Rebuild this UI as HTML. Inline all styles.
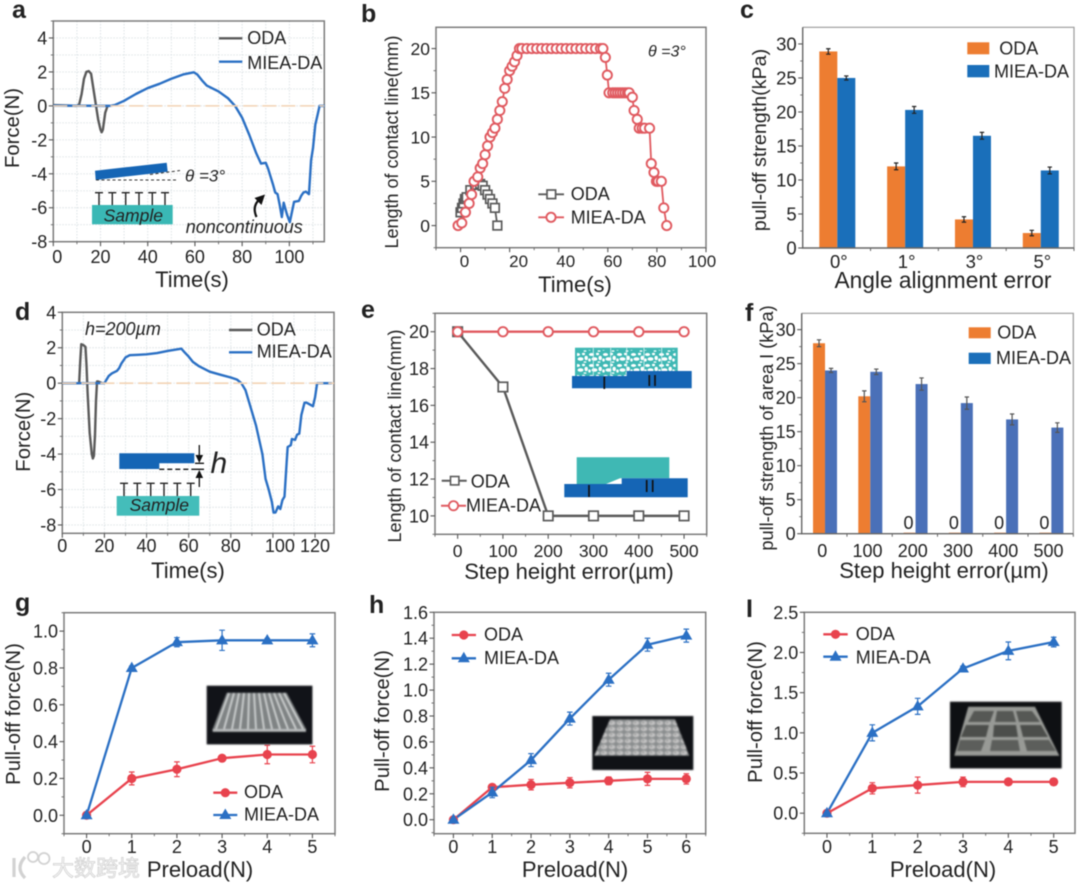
<!DOCTYPE html>
<html lang="en">
<head>
<meta charset="utf-8">
<title>Adhesion force and contact line charts</title>
<style>
html,body{margin:0;padding:0;background:#fff;}
#figure{display:block;width:1080px;height:886px;filter:blur(0.55px);font-family:"Liberation Sans","Noto Sans CJK SC",sans-serif;}
#figure text{fill:#222;font-family:"Liberation Sans","Noto Sans CJK SC",sans-serif;}
.soft{filter:blur(0.7px);}
</style>
</head>
<body>
<svg id="figure" xmlns="http://www.w3.org/2000/svg" width="1080" height="886" viewBox="0 0 1080 886">
<defs>
<pattern id="pores" width="14" height="11" patternUnits="userSpaceOnUse">
<ellipse cx="3.5" cy="2.5" rx="2.6" ry="1.5" fill="#fff"/><ellipse cx="9.5" cy="2" rx="1.6" ry="1.2" fill="#fff"/><ellipse cx="12.2" cy="6" rx="1.7" ry="2.2" fill="#fff"/><ellipse cx="6.5" cy="7" rx="3" ry="1.8" fill="#fff"/><ellipse cx="1.5" cy="8" rx="1.3" ry="1.6" fill="#fff"/><ellipse cx="11" cy="10" rx="1.5" ry="0.8" fill="#fff"/>
</pattern>
<pattern id="domes" width="8" height="6" patternUnits="userSpaceOnUse">
<ellipse cx="4" cy="3" rx="3.4" ry="2.2" fill="#c4c4c4"/><ellipse cx="3.2" cy="2.4" rx="1.3" ry="0.8" fill="#9a9a9a"/>
</pattern>
</defs>
<rect x="0" y="0" width="1080" height="886" fill="#fff"/>

<g id="plot-a"></g>
<g id="plot-b"></g>
<g id="plot-c"></g>
<g id="plot-d"></g>
<g id="plot-e"></g>
<g id="plot-f"></g>
<g id="plot-g"></g>
<g id="plot-h"></g>
<g id="plot-i"></g>

<!-- panel letters -->
<g font-weight="700" font-size="25">
<text x="12" y="18" style="font-weight:700">a</text>
<text x="361" y="22" style="font-weight:700">b</text>
<text x="740" y="18" style="font-weight:700">c</text>
<text x="15" y="320" style="font-weight:700">d</text>
<text x="361" y="318" style="font-weight:700">e</text>
<text x="745" y="321" style="font-weight:700">f</text>
<text x="15" y="611" style="font-weight:700">g</text>
<text x="369" y="613" style="font-weight:700">h</text>
<text x="746" y="617" style="font-weight:700">I</text>
</g>

<!-- axis titles -->
<g font-size="22" text-anchor="middle">
<text x="192" y="287">Time(s)</text>
<text x="575" y="292">Time(s)</text>
<text x="943" y="288" font-size="22.7">Angle alignment error</text>
<text x="188" y="578">Time(s)</text>
<text x="569" y="579">Step height error(µm)</text>
<text x="944" y="578">Step height error(µm)</text>
<text x="200" y="877">Preload(N)</text>
<text x="575" y="877">Preload(N)</text>
<text x="943" y="877">Preload(N)</text>
<text transform="translate(19,128) rotate(-90)" font-size="20.3">Force(N)</text>
<text transform="translate(398,142) rotate(-90)" font-size="18">Length of contact line(mm)</text>
<text transform="translate(766,140) rotate(-90)" font-size="19.7">pull-off strength(kPa)</text>
<text transform="translate(30,431.7) rotate(-90)" font-size="20.3">Force(N)</text>
<text transform="translate(401,436) rotate(-90)" font-size="18">Length of contact line(mm)</text>
<text transform="translate(773,428) rotate(-90)" font-size="18.2">pull-off strength of area I (kPa)</text>
<text transform="translate(20,714) rotate(-90)" font-size="20.3">Pull-off force(N)</text>
<text transform="translate(389,721) rotate(-90)" font-size="20.3">Pull-off force(N)</text>
<text transform="translate(762,712) rotate(-90)" font-size="20.3">Pull-off force(N)</text>
</g>

<!-- legends -->
<g font-size="18">
<g>
<line x1="219" y1="38.3" x2="242.3" y2="38.3" stroke="#5a5a5a" stroke-width="2.4"/><text x="247.3" y="44">ODA</text>
<line x1="219" y1="61.7" x2="242.3" y2="61.7" stroke="#2b70c4" stroke-width="2.4"/><text x="247.3" y="69">MIEA-DA</text>
</g>
<g>
<line x1="538.3" y1="194.3" x2="564" y2="194.3" stroke="#5a5a5a" stroke-width="1.8"/><rect x="547" y="190" width="8.6" height="8.6" fill="#fff" stroke="#5a5a5a" stroke-width="1.7"/><text x="570.7" y="200">ODA</text>
<line x1="538.3" y1="217.3" x2="564" y2="217.3" stroke="#e05a60" stroke-width="1.8"/><circle cx="551" cy="217.3" r="4.6" fill="#fff" stroke="#e05a60" stroke-width="1.9"/><text x="570.7" y="223.3">MIEA-DA</text>
<text x="648" y="56.7" font-size="16" style="font-style:italic">θ =3°</text>
</g>
<g>
<rect x="967.3" y="42.3" width="22" height="12" fill="#ed7d31"/><text x="999.3" y="54.3">ODA</text>
<rect x="967.3" y="65" width="22" height="12.3" fill="#1a6fba"/><text x="994" y="77.7">MIEA-DA</text>
</g>
<g>
<line x1="229" y1="330" x2="252.3" y2="330" stroke="#5a5a5a" stroke-width="2.4"/><text x="256.7" y="335.7">ODA</text>
<line x1="229" y1="352.3" x2="252.3" y2="352.3" stroke="#2b70c4" stroke-width="2.4"/><text x="256.7" y="357.7">MIEA-DA</text>
</g>
<g>
<line x1="441.7" y1="480.7" x2="466.7" y2="480.7" stroke="#5a5a5a" stroke-width="2"/><rect x="450.5" y="476.5" width="8.4" height="8.4" fill="#fff" stroke="#5a5a5a" stroke-width="1.6"/><text x="470.7" y="487.3">ODA</text>
<line x1="441" y1="505.7" x2="466" y2="505.7" stroke="#e05a60" stroke-width="2"/><circle cx="453.5" cy="505.7" r="4.6" fill="#fff" stroke="#e05a60" stroke-width="1.8"/><text x="466" y="511.7">MIEA-DA</text>
</g>
<g>
<rect x="968.7" y="327.3" width="22" height="11" fill="#ed7d31"/><text x="997.3" y="338.3">ODA</text>
<rect x="968.7" y="352.7" width="22" height="11.3" fill="#1a6fba"/><text x="996" y="364">MIEA-DA</text>
</g>
<g>
<line x1="213.3" y1="792.7" x2="237.3" y2="792.7" stroke="#e8434e" stroke-width="2.3"/><circle cx="225.3" cy="792.7" r="4.6" fill="#e8434e"/><text x="244" y="798">ODA</text>
<line x1="213.3" y1="815" x2="237.3" y2="815" stroke="#2b70c4" stroke-width="2.3"/><polygon points="225.3,808.5 231.3,819 219.3,819" fill="#2b70c4"/><text x="244" y="820.7">MIEA-DA</text>
</g>
<g>
<line x1="451.7" y1="635" x2="476" y2="635" stroke="#e8434e" stroke-width="2.3"/><circle cx="463.8" cy="635" r="4.6" fill="#e8434e"/><text x="484" y="640.7">ODA</text>
<line x1="451.7" y1="658.3" x2="476" y2="658.3" stroke="#2b70c4" stroke-width="2.3"/><polygon points="463.8,651.8 469.8,662.3 457.8,662.3" fill="#2b70c4"/><text x="484" y="664">MIEA-DA</text>
</g>
<g>
<line x1="823.3" y1="634.3" x2="847.7" y2="634.3" stroke="#e8434e" stroke-width="2.3"/><circle cx="835.5" cy="634.3" r="4.6" fill="#e8434e"/><text x="855.7" y="640">ODA</text>
<line x1="823.3" y1="656.7" x2="847.7" y2="656.7" stroke="#2b70c4" stroke-width="2.3"/><polygon points="835.5,650.2 841.5,660.7 829.5,660.7" fill="#2b70c4"/><text x="855.7" y="663.3">MIEA-DA</text>
</g>
</g>

<!-- panel a schematic -->
<g>
<polygon points="95,170.7 166.7,162.7 167.7,171.7 95.7,180" fill="#1565b5"/>
<line x1="96" y1="180" x2="176" y2="180" stroke="#333" stroke-width="1" stroke-dasharray="3,2.5"/>
<line x1="150" y1="174.5" x2="180" y2="170.5" stroke="#333" stroke-width="1" stroke-dasharray="3,2.5"/>
<path d="M99,192.7V205M95,192.7H103M112.3,192.7V205M108.3,192.7H116.3M125.7,192.7V205M121.7,192.7H129.7M139,192.7V205M135,192.7H143M152.3,192.7V205M148.3,192.7H156.3M165,192.7V205M161,192.7H169" stroke="#222" stroke-width="1.4" fill="none"/>
<rect x="92" y="205" width="80.7" height="19.3" fill="#3ab8b5"/>
<text x="133.3" y="221.5" font-size="17.5" text-anchor="middle" style="font-style:italic">Sample</text>
<text x="185" y="181.7" font-size="17" style="font-style:italic">θ =3°</text>
<text x="185.7" y="233" font-size="18" style="font-style:italic">noncontinuous</text>
<path d="M256.5,217 C253,209 255,203 260,199" fill="none" stroke="#111" stroke-width="2.2"/>
<polygon points="265,194.5 254.5,198 261.5,205" fill="#111"/>
</g>

<!-- panel d schematic -->
<g>
<path d="M119.3,453.3H194.3V463.3H159.3V469H119.3Z" fill="#1565b5"/>
<line x1="159.3" y1="469.3" x2="195" y2="469.3" stroke="#111" stroke-width="1.4" stroke-dasharray="5,3"/>
<path d="M195,463.3H204M195,469.3H204M199.3,445V457M199.3,487V476" stroke="#111" stroke-width="1.3" fill="none"/>
<polygon points="199.3,463 195.5,455 203.1,455" fill="#111"/>
<polygon points="199.3,470 195.5,478 203.1,478" fill="#111"/>
<text x="210.5" y="473" font-size="30" style="font-style:italic">h</text>
<text x="85" y="335" font-size="18" style="font-style:italic">h=200µm</text>
<path d="M124,483.3V496M120,483.3H128M137.3,483.3V496M133.3,483.3H141.3M150.7,483.3V496M146.7,483.3H154.7M164,483.3V496M160,483.3H168M177.3,483.3V496M173.3,483.3H181.3M190.7,483.3V496M186.7,483.3H194.7" stroke="#222" stroke-width="1.4" fill="none"/>
<rect x="116.7" y="496" width="82.6" height="19.7" fill="#44bdba"/>
<text x="159.3" y="511" font-size="17.5" text-anchor="middle" style="font-style:italic">Sample</text>
</g>

<!-- panel e schematics -->
<g>
<rect x="575" y="347.7" width="102.7" height="28.3" fill="#3fb8b4"/>
<rect x="577" y="350" width="98.7" height="26" fill="url(#pores)"/>
<path d="M593.3,348V376M610.7,348V376M626.7,348V376M644,348V376M661.7,348V376" stroke="#dff5f4" stroke-width="0.8"/>
<path d="M572,376H626.7V371H691.7V388.3H572Z" fill="#1565b5"/>
<path d="M604.3,376.7V389M649.3,375V386M655,375V386" stroke="#111" stroke-width="1.7"/>
</g>
<g>
<path d="M576.7,457.3H669.3V478.3H620L606,484H576.7Z" fill="#3fb8b4"/>
<path d="M564.3,484H621.7V478.3H687.7V497.3H564.3Z" fill="#1565b5"/>
<path d="M589,485V497M646.7,480V492M652.7,480V492" stroke="#111" stroke-width="1.7"/>
</g>

<!-- photo insets -->
<g class="soft">
<rect x="206.7" y="685.7" width="105.7" height="58.7" fill="#111318"/>
<polygon points="226.7,692.7 286.7,692.7 306,729 306,731 212.7,731 212.7,729" fill="#7f8384"/>
<path d="M229,693L216,729M234,693L224,729M239,693L232,729M244,693L240,729M249,693L248,729M254,693L256,729M259,693L264,729M264,693L272,729M269,693L280,729M274,693L288,729M279,693L296,729M284,693L303,729" stroke="#d5d8d8" stroke-width="1.7"/>
<rect x="212.7" y="729" width="93.3" height="2.8" fill="#b9bcbd"/>
</g>
<g class="soft">
<rect x="592.3" y="716" width="101" height="54" fill="#101216"/>
<polygon points="610,719.3 675,719.3 689.3,755.7 594.3,755.7" fill="#8a8d8e"/>
<polygon points="610,719.3 675,719.3 689.3,755.7 594.3,755.7" fill="url(#domes)"/>
</g>
<g class="soft">
<rect x="950" y="701.7" width="111.7" height="66.7" fill="#0e1013"/>
<polygon points="968.3,706.7 1035,706.7 1059.3,755.7 954.3,755.7" fill="#989a96"/>
<polygon points="974,711 994,711 990,722 968,722" fill="#565855"/><polygon points="997,711 1013,711 1016,722 995,722" fill="#565855"/><polygon points="1016,711 1032,711 1040,722 1019,722" fill="#565855"/>
<polygon points="966,725 989,725 986,737 961,737" fill="#4c4e4b"/><polygon points="994,725 1016,725 1018,737 993,737" fill="#4c4e4b"/><polygon points="1020,725 1041,725 1048,737 1023,737" fill="#4c4e4b"/>
<polygon points="960,740 985,740 981,751 957,751" fill="#5c5e5b"/><polygon points="992,740 1018,740 1020,751 990,751" fill="#5c5e5b"/><polygon points="1024,740 1049,740 1056,751 1027,751" fill="#5c5e5b"/>
</g>

<!-- watermark -->
<g>
<path d="M14,858V877M25,857Q15,868 25,878" fill="none" stroke="#d2d2d2" stroke-width="3.2"/>
<circle cx="33" cy="857" r="5" fill="none" stroke="#d2d2d2" stroke-width="1.8"/><circle cx="44" cy="858.5" r="5.5" fill="none" stroke="#d2d2d2" stroke-width="1.8"/>
<text x="52" y="876" font-size="22" style="fill:#f8f8f8;stroke:#cfcfcf;stroke-width:0.7px">大数跨境</text>
</g>
</svg>

<script>
// ---- chart values ----
const aOdaTime=[0,10,11,12,13,14,15,16,17,18,19,20,20.5,21,22,23];
const aOdaForce=[0.05,0,0.1,0.7,1.6,2.0,2.05,1.9,1.0,0.1,-0.8,-1.4,-1.55,-1.4,-0.4,0];
const aMieaTime=[0,24,26,30,35,40,45,50,55,59.5,61,63,65,70,74,77,80,83,86,88,90,91,93,94,95,96,96.8,97.6,99,100.2,102,104,105,106,107,108.3,109.2,110,111,112,112.8,115];
const aMieaForce=[0.02,0,0.05,0.3,0.7,1.05,1.3,1.6,1.85,1.98,1.85,1.5,1.2,0.85,0.45,0,-0.7,-1.7,-2.8,-3.4,-3.35,-3.7,-4.6,-5.1,-5.2,-5.9,-6.55,-5.7,-6.4,-6.85,-5.65,-5.6,-5.3,-5.1,-5.05,-5.2,-3.2,-2.5,-1.1,-0.5,0,0];
const aXLabels=['0','20','40','60','80','100'];
const aYLabels=['-8','-6','-4','-2','0','2','4'];

const bOdaTime=[0,0.6,1.2,1.8,2.5,4,6,7,8,9,10,11,12,13,14,15];
const bOdaLength=[1.5,2,2.5,3,3.2,4,4.6,5,4.7,4.5,4,3.5,3,2.5,2,0];
const bMieaTime=[-1,0.5,2,3.5,4.5,5.5,7,8,9,10,11,12,13,14,15,16,17,18,19,20,21,22,23,24,25,27,29,31,33,35,37,39,41,43,45,47,49,51,53,55,57,58,59,59.8,60.5,62,63,64,65,66,67,68,68.7,70,70.7,72,72.8,74,75,77,77.7,78.8,79.8,80.5,81.8,82.8,84];
const bMieaLength=[0,0.3,1.5,2.5,3.5,5,5.5,6.5,7,8,9,10,10.5,11,12,13,14,15.5,16.5,17.5,18,18.5,19.2,20,20,20,20,20,20,20,20,20,20,20,20,20,20,20,20,20,20,20,19,17,15,15,15,15,15,15,15,15,15,14.5,13,12,11,11,11,11,7,6,5,5,5,2,0];
const bXLabels=['0','20','40','60','80','100'];
const bYLabels=['0','5','10','15','20'];

const cCategories=['0°','1°','3°','5°'];
const cOda=[28.9,12,4.2,2.2];
const cOdaErr=[0.4,0.5,0.4,0.4];
const cMiea=[25,20.3,16.5,11.4];
const cMieaErr=[0.3,0.5,0.5,0.5];
const cYLabels=['0','5','10','15','20','25','30'];

const dOdaTime=[0,8,8.5,9,10,11,11.5,12,13,14,14.5,15,15.5,16,16.5,17,19];
const dOdaForce=[0,0,1.2,2.2,2.15,2.05,1,-0.5,-2.8,-4,-4.25,-4.1,-3,-1,0.1,0.1,0];
const dMieaTime=[0,20,21,22,23.5,26,27,28,30,32,36,40,45,50,56.5,58,60,62,65,70,75,80,83,85,87,89,92,95,96.5,98,99.5,100.3,101.2,102.5,103.5,104.5,105.5,106.5,107,108.5,109,110.5,111.5,112.5,113.5,115,116,119,120,121,128];
const dMieaForce=[0,0,0.2,0.4,0.55,0.7,0.85,1.1,1.45,1.58,1.6,1.63,1.7,1.82,1.95,1.75,1.5,1.2,0.95,0.65,0.48,0.32,0.2,0,-0.4,-1.2,-2.4,-4,-5.4,-6,-6.7,-7.3,-7.3,-6.95,-7.1,-6.6,-6.4,-4.5,-3.6,-3.5,-3.15,-3.2,-2.9,-2.85,-1.8,-1.1,-1.1,-1.3,-0.8,0,0];
const dXLabels=['0','20','40','60','80','100','120'];
const dYLabels=['-8','-6','-4','-2','0','2','4'];

const eErrors=[0,100,200,300,400,500];
const eOda=[20,17,10,10,10,10];
const eMiea=[20,20,20,20,20,20];
const eXLabels=['0','100','200','300','400','500'];
const eYLabels=['10','12','14','16','18','20'];

const fCategories=['0','100','200','300','400','500'];
const fOda=[28,20.2,0.15,0.15,0.15,0.15];
const fOdaErr=[0.5,0.8,0,0,0,0];
const fMiea=[24,23.8,22,19.2,16.8,15.6];
const fMieaErr=[0.3,0.4,0.9,0.9,0.8,0.7];
const fOdaPrinted=['','','0','0','0','0'];
const fYLabels=['0','5','10','15','20','25','30'];

const gPreload=[0,1,2,3,4,5];
const gOda=[0,0.2,0.25,0.31,0.33,0.33];
const gOdaErr=[0,0.035,0.04,0.015,0.05,0.045];
const gMiea=[0,0.8,0.94,0.95,0.95,0.95];
const gMieaErr=[0,0.01,0.025,0.055,0.01,0.035];
const gXLabels=['0','1','2','3','4','5'];
const gYLabels=['0.0','0.2','0.4','0.6','0.8','1.0'];

const hPreload=[0,1,2,3,4,5,6];
const hOda=[0,0.25,0.27,0.285,0.3,0.315,0.315];
const hOdaErr=[0,0.02,0.04,0.04,0.03,0.05,0.04];
const hMiea=[0,0.21,0.46,0.78,1.08,1.35,1.42];
const hMieaErr=[0,0.04,0.05,0.05,0.05,0.05,0.05];
const hXLabels=['0','1','2','3','4','5','6'];
const hYLabels=['0.0','0.2','0.4','0.6','0.8','1.0','1.2','1.4','1.6'];

const iPreload=[0,1,2,3,4,5];
const iOda=[0,0.31,0.35,0.39,0.39,0.39];
const iOdaErr=[0,0.07,0.1,0.06,0.02,0.04];
const iMiea=[0,1,1.33,1.8,2.02,2.13];
const iMieaErr=[0,0.1,0.1,0.03,0.11,0.06];
const iXLabels=['0','1','2','3','4','5'];
const iYLabels=['0.0','0.5','1.0','1.5','2.0','2.5'];

// ---- drawing helpers ----
const NS='http://www.w3.org/2000/svg';
const GRAY='#5a5a5a',BLUE='#2b70c4',RED='#e8434e',PINK='#e05a60',ORANGE='#ed7d31';

function make(tag,attrs,parent){
  const node=document.createElementNS(NS,tag);
  for(const k in attrs){node.setAttribute(k,attrs[k]);}
  parent.appendChild(node);
  return node;
}
function linScale(d0,d1,r0,r1){
  return function(v){return r0+(v-d0)*(r1-r0)/(d1-d0);};
}
function drawFrame(g,f){
  const box=make('rect',{x:f.l,y:f.t,width:f.r-f.l,height:f.b-f.t,fill:'none',stroke:'#7c7c7c','stroke-width':1.5},g);
  
  
}
function withMinors(ticks,lo,hi){
  const out=ticks.slice();
  const step=ticks.length>1?ticks[1]-ticks[0]:0;
  if(!step){return out;}
  for(let v=ticks[0]-step/2;v<=hi+1e-9;v+=step){
    if(v>=lo-1e-9){out.push(v);}
  }
  return out;
}
function drawGrid(g,f,xs,ys,xTicks,yTicks){
  const xAll=withMinors(xTicks,f.xMin,f.xMax),yAll=withMinors(yTicks,f.yMin,f.yMax);
  xAll.forEach(function(v){
    const ln=make('line',{x1:xs(v),x2:xs(v),y1:f.t,y2:f.b,stroke:'#d9e0e3','stroke-width':0.9,'stroke-dasharray':'1.5,1.5'},g);
    
    
  });
  yAll.forEach(function(v){
    const ln=make('line',{x1:f.l,x2:f.r,y1:ys(v),y2:ys(v),stroke:'#d9e0e3','stroke-width':0.9,'stroke-dasharray':'1.5,1.5'},g);
    
    
  });
}
function drawZeroLine(g,f,ys){
  const zero=make('line',{x1:f.l,x2:f.r,y1:ys(0),y2:ys(0),stroke:'#f3d3b4','stroke-width':1.6,'stroke-dasharray':'14,5'},g);
  
  
}
function drawYAxis(g,f,ys,labels,size){
  const vals=labels.map(parseFloat);
  vals.forEach(function(v,i){
    const tk=make('line',{x1:f.l-4.5,x2:f.l,y1:ys(v),y2:ys(v),stroke:'#555','stroke-width':1.1},g);
    
    
    const tx=make('text',{x:f.l-6,y:ys(v)+size*0.36,'text-anchor':'end','font-size':size},g);
    tx.textContent=labels[i];
    
    
  });
  const step=vals[1]-vals[0];
  for(let v=vals[0]-step/2;v<=f.yMax+1e-9;v+=step){
    if(v<f.yMin){continue;}
    const mt=make('line',{x1:f.l-2.5,x2:f.l,y1:ys(v),y2:ys(v),stroke:'#666','stroke-width':0.9},g);
    
    
  }
}
function drawXAxis(g,f,xs,labels,size,baseline,nudge){
  const vals=labels.map(parseFloat);
  vals.forEach(function(v,i){
    const tk=make('line',{x1:xs(v),x2:xs(v),y1:f.b,y2:f.b+4.5,stroke:'#555','stroke-width':1.1},g);
    
    
    const shift=nudge?nudge(i):0;
    const tx=make('text',{x:xs(v)+shift,y:baseline,'text-anchor':'middle','font-size':size},g);
    tx.textContent=labels[i];
    
    
  });
  const step=vals[1]-vals[0];
  for(let v=vals[0]-step/2;v<=f.xMax+1e-9;v+=step){
    if(v<f.xMin){continue;}
    const mt=make('line',{x1:xs(v),x2:xs(v),y1:f.b,y2:f.b+2.5,stroke:'#666','stroke-width':0.9},g);
    
    
  }
}
function pathOf(xVals,yVals,xs,ys){
  return xVals.map(function(v,i){return (i?'L':'M')+xs(v).toFixed(2)+','+ys(yVals[i]).toFixed(2);}).join('');
}
function drawLine(g,name,xVals,yVals,xs,ys,color,width){
  const p=make('path',{d:pathOf(xVals,yVals,xs,ys),fill:'none',stroke:color,'stroke-width':width,'stroke-linejoin':'round'},g);
  
  
}
function drawHollowCircles(g,xVals,yVals,xs,ys,color,r){
  xVals.forEach(function(v,i){
    const c=make('circle',{cx:xs(v),cy:ys(yVals[i]),r:r,fill:'#fff',stroke:color,'stroke-width':1.9},g);
    
    
  });
}
function drawHollowSquares(g,xVals,yVals,xs,ys,color,side){
  xVals.forEach(function(v,i){
    const s=make('rect',{x:xs(v)-side/2,y:ys(yVals[i])-side/2,width:side,height:side,fill:'#fff',stroke:color,'stroke-width':1.7},g);
    
    
  });
}
function drawErrors(g,name,cx,cyHigh,cyLow,color,cap){
  const e=make('path',{d:'M'+cx+','+cyHigh+'V'+cyLow+'M'+(cx-cap)+','+cyHigh+'H'+(cx+cap)+'M'+(cx-cap)+','+cyLow+'H'+(cx+cap),fill:'none',stroke:color,'stroke-width':1.2},g);
  
  
}
function drawBarChart(g,f,categories,oda,odaErr,miea,mieaErr,barW,miaColor,errColor,yLabels,size,baseline,labelShift){
  const ys=linScale(f.yMin,f.yMax,f.b,f.t);
  const band=(f.r-f.l)/categories.length;
  const center=function(i){return f.l+(i+0.5)*band+0.7;};
  categories.forEach(function(cat,i){
    const c=center(i);
    const ob=make('rect',{x:c-barW,y:ys(oda[i]),width:barW,height:ys(0)-ys(oda[i]),fill:ORANGE},g);
    
    
    const mb=make('rect',{x:c,y:ys(miea[i]),width:barW,height:ys(0)-ys(miea[i]),fill:miaColor},g);
    
    
    if(odaErr[i]>0){drawErrors(g,'oda-error-bar',c-barW/2,ys(oda[i]+odaErr[i]),ys(oda[i]-odaErr[i]),errColor,2.2);}
    if(mieaErr[i]>0){drawErrors(g,'miea-da-error-bar',c+barW/2,ys(miea[i]+mieaErr[i]),ys(miea[i]-mieaErr[i]),errColor,2.2);}
    const lb=make('text',{x:c+labelShift,y:baseline,'text-anchor':'middle','font-size':size},g);
    lb.textContent=cat;
    
    
    const tk=make('line',{x1:f.l+(i+1)*band,x2:f.l+(i+1)*band,y1:f.b,y2:f.b+3,stroke:'#666','stroke-width':1},g);
    
    
  });
  const frameTop=make('path',{d:'M'+f.l+','+f.t+'H'+f.r+'V'+f.b,fill:'none',stroke:'#999','stroke-width':1.2},g);
  
  
  const axes=make('path',{d:'M'+f.l+','+f.t+'V'+f.b+'H'+f.r,fill:'none',stroke:'#666','stroke-width':1.4},g);
  
  
  drawYAxis(g,f,ys,yLabels,size);
  return center;
}
function drawPreloadChart(g,f,preload,oda,odaErr,miea,mieaErr,xLabels,yLabels,baseline){
  const xs=linScale(f.xMin,f.xMax,f.l,f.r),ys=linScale(f.yMin,f.yMax,f.b,f.t);
  drawFrame(g,f);
  drawYAxis(g,f,ys,yLabels,18);
  drawXAxis(g,f,xs,xLabels,18,baseline);
  drawLine(g,'oda-line',preload,oda,xs,ys,RED,2.3);
  drawLine(g,'miea-da-line',preload,miea,xs,ys,BLUE,2.3);
  preload.forEach(function(v,i){
    if(odaErr[i]>0){drawErrors(g,'oda-error-bar',xs(v),ys(oda[i]+odaErr[i]),ys(oda[i]-odaErr[i]),RED,2.8);}
    const c=make('circle',{cx:xs(v),cy:ys(oda[i]),r:4.6,fill:RED},g);
    
    
  });
  preload.forEach(function(v,i){
    if(mieaErr[i]>0){drawErrors(g,'miea-da-error-bar',xs(v),ys(miea[i]+mieaErr[i]),ys(miea[i]-mieaErr[i]),BLUE,2.8);}
    const X=xs(v),Y=ys(miea[i]);
    const t=make('polygon',{points:(X)+','+(Y-6.3)+' '+(X+6)+','+(Y+4)+' '+(X-6)+','+(Y+4),fill:BLUE},g);
    
    
  });
}

// ---- panel a ----
(function(){
  const g=document.getElementById('plot-a');
  const f={l:53.3,r:324.3,t:21,b:241.7,xMin:0,xMax:114.8,yMin:-8,yMax:5};
  const xs=linScale(f.xMin,f.xMax,f.l,f.r),ys=linScale(f.yMin,f.yMax,f.b,f.t);
  drawGrid(g,f,xs,ys,aXLabels.map(parseFloat),aYLabels.map(parseFloat));
  drawFrame(g,f);
  drawYAxis(g,f,ys,aYLabels,18);
  drawXAxis(g,f,xs,aXLabels,18,263,function(i){return i===0?4:0;});
  drawLine(g,'oda-force-curve',aOdaTime,aOdaForce,xs,ys,GRAY,2.4);
  drawLine(g,'miea-da-force-curve',aMieaTime,aMieaForce,xs,ys,BLUE,2.4);
  drawZeroLine(g,f,ys);
})();

// ---- panel b ----
(function(){
  const g=document.getElementById('plot-b');
  const f={l:436,r:706,t:27.3,b:247.7,xMin:-10,xMax:100,yMin:-2.5,yMax:22.4};
  const xs=linScale(f.xMin,f.xMax,f.l,f.r),ys=linScale(f.yMin,f.yMax,f.b,f.t);
  drawFrame(g,f);
  drawYAxis(g,f,ys,bYLabels,17.5);
  drawXAxis(g,f,xs,bXLabels,17,267,function(i){return 4+(i===0?0:(i===1?5:(i===2?3:(i===3?1:(i===4?-4:-8)))));});
  drawLine(g,'oda-contact-line',bOdaTime,bOdaLength,xs,ys,GRAY,1.8);
  drawHollowSquares(g,bOdaTime,bOdaLength,xs,ys,GRAY,8.6);
  drawLine(g,'miea-da-contact-line',bMieaTime,bMieaLength,xs,ys,PINK,1.8);
  drawHollowCircles(g,bMieaTime,bMieaLength,xs,ys,PINK,4.6);
})();

// ---- panel c ----
(function(){
  const g=document.getElementById('plot-c');
  const f={l:802.7,r:1074,t:27.3,b:248,yMin:0,yMax:32.45};
  drawBarChart(g,f,cCategories,cOda,cOdaErr,cMiea,cMieaErr,18,'#1a6fba','#222',cYLabels,18.5,268,1.5);
})();

// ---- panel d ----
(function(){
  const g=document.getElementById('plot-d');
  const f={l:62.3,r:334,t:312.3,b:533.3,xMin:0,xMax:129,yMin:-8.47,yMax:4};
  const xs=linScale(f.xMin,f.xMax,f.l,f.r),ys=linScale(f.yMin,f.yMax,f.b,f.t);
  drawGrid(g,f,xs,ys,dXLabels.map(parseFloat),dYLabels.map(parseFloat));
  drawFrame(g,f);
  drawYAxis(g,f,ys,dYLabels,18);
  drawXAxis(g,f,xs,dXLabels,18,552,function(i){return i===5?7:0;});
  drawLine(g,'oda-force-curve',dOdaTime,dOdaForce,xs,ys,GRAY,2.4);
  drawLine(g,'miea-da-force-curve',dMieaTime,dMieaForce,xs,ys,BLUE,2.4);
  drawZeroLine(g,f,ys);
})();

// ---- panel e ----
(function(){
  const g=document.getElementById('plot-e');
  const f={l:435,r:706.7,t:313.3,b:534.3,xMin:-50,xMax:550,yMin:9,yMax:21};
  const xs=linScale(f.xMin,f.xMax,f.l,f.r),ys=linScale(f.yMin,f.yMax,f.b,f.t);
  drawFrame(g,f);
  drawYAxis(g,f,ys,eYLabels,18);
  drawXAxis(g,f,xs,eXLabels,17.5,557);
  drawLine(g,'oda-contact-line',eErrors,eOda,xs,ys,GRAY,2.4);
  drawHollowSquares(g,eErrors,eOda,xs,ys,GRAY,9.4);
  drawLine(g,'miea-da-contact-line',eErrors,eMiea,xs,ys,PINK,2.4);
  drawHollowCircles(g,eErrors,eMiea,xs,ys,PINK,4.7);
})();

// ---- panel f ----
(function(){
  const g=document.getElementById('plot-f');
  const f={l:801.7,r:1073.3,t:313.3,b:533.7,yMin:0,yMax:32.4};
  const barW=12;
  const center=drawBarChart(g,f,fCategories,fOda,fOdaErr,fMiea,fMieaErr,barW,'#4a70b8','#555',fYLabels,18,557,-2.8);
  const ys=linScale(f.yMin,f.yMax,f.b,f.t);
  fOdaPrinted.forEach(function(s,i){
    if(!s){return;}
    const t=make('text',{x:center(i)-barW/2-1,y:ys(fOda[i])-3.5,'text-anchor':'middle','font-size':18},g);
    t.textContent=s;
    
    
  });
})();

// ---- panels g, h, i ----
drawPreloadChart(document.getElementById('plot-g'),{l:64,r:335,t:612.7,b:833.7,xMin:-0.5,xMax:5.5,yMin:-0.1,yMax:1.1},gPreload,gOda,gOdaErr,gMiea,gMieaErr,gXLabels,gYLabels,853);
drawPreloadChart(document.getElementById('plot-h'),{l:434,r:705.7,t:612.3,b:833.7,xMin:-0.5,xMax:6.5,yMin:-0.108,yMax:1.6},hPreload,hOda,hOdaErr,hMiea,hMieaErr,hXLabels,hYLabels,853);
drawPreloadChart(document.getElementById('plot-i'),{l:804.3,r:1075,t:612.3,b:833.3,xMin:-0.5,xMax:5.47,yMin:-0.25,yMax:2.5},iPreload,iOda,iOdaErr,iMiea,iMieaErr,iXLabels,iYLabels,853);
</script>
</body>
</html>
